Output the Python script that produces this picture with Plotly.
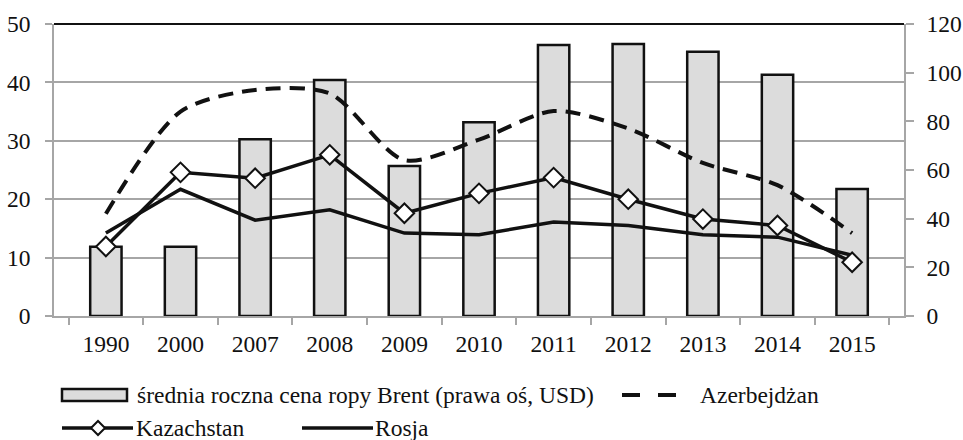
import plotly.graph_objects as go

years = ["1990", "2000", "2007", "2008", "2009", "2010", "2011", "2012", "2013", "2014", "2015"]
brent = [28.5, 28.5, 72.6, 97.0, 61.6, 79.6, 111.4, 111.8, 108.6, 99.1, 52.2]
azerbejdzan = [17.5, 35.0, 38.7, 38.1, 26.7, 30.2, 35.1, 32.1, 26.2, 22.4, 14.2]
kazachstan = [11.9, 24.6, 23.6, 27.6, 17.6, 21.0, 23.7, 20.0, 16.6, 15.5, 9.2]
rosja = [14.2, 21.7, 16.4, 18.2, 14.2, 13.9, 16.1, 15.5, 13.9, 13.5, 10.4]

names = ["średnia roczna cena ropy Brent (prawa oś, USD)", "Azerbejdżan", "Kazachstan", "Rosja"]

FONT = "Liberation Serif, Times New Roman, serif"
BAR_FILL = "#dcdcdc"
GRID = "#a6a6a6"
FS = 23.5

fig = go.Figure()
fig.add_trace(go.Bar(x=years, y=brent, name=names[0], yaxis="y", width=0.42,
                     marker=dict(color=BAR_FILL, line=dict(color="#111", width=2.5)),
                     showlegend=False))
fig.add_trace(go.Scatter(x=years, y=azerbejdzan, name=names[1], yaxis="y2", mode="lines",
                         line=dict(color="#111", width=4, dash="15px,9px", shape="spline",
                                   smoothing=0.8),
                         showlegend=False))
fig.add_trace(go.Scatter(x=years, y=rosja, name=names[3], yaxis="y2", mode="lines",
                         line=dict(color="#111", width=3.5), showlegend=False))
fig.add_trace(go.Scatter(x=years, y=kazachstan, name=names[2], yaxis="y2", mode="lines+markers",
                         line=dict(color="#111", width=3.5),
                         marker=dict(symbol="diamond", size=15, color="white",
                                     line=dict(color="#111", width=2)),
                         showlegend=False))

# body margin is removed by the post script, so the figure fills the window
W, H = 963, 440

def px(x):  # window pixel -> paper x
    return x / W

def py(y):  # window pixel -> paper y
    return (H - y) / H

XDOM = [px(54), px(904)]
YDOM = [py(316), py(24)]

shapes = [
    dict(type="line", xref="paper", yref="paper", x0=XDOM[0], x1=XDOM[1], y0=YDOM[1], y1=YDOM[1],
         line=dict(color="#111", width=2)),
]
ann = []

r1, r2 = 395, 428
shapes.append(dict(type="rect", xref="paper", yref="paper",
                   x0=px(62), x1=px(127), y0=py(r1 - 6), y1=py(r1 + 6),
                   fillcolor=BAR_FILL, line=dict(color="#111", width=2.5)))
ann.append(dict(text=names[0], x=px(135), y=py(r1)))
shapes.append(dict(type="line", xref="paper", yref="paper",
                   x0=px(622), x1=px(677), y0=py(r1), y1=py(r1),
                   line=dict(color="#111", width=4, dash="18px,18px")))
ann.append(dict(text=names[1], x=px(698), y=py(r1)))
shapes.append(dict(type="line", xref="paper", yref="paper",
                   x0=px(62), x1=px(133), y0=py(r2), y1=py(r2),
                   line=dict(color="#111", width=3.5)))
cx, cy, d = 98, r2, 7
shapes.append(dict(type="path", xref="paper", yref="paper",
                   path=f"M{px(cx - d)},{py(cy)} L{px(cx)},{py(cy - d)} L{px(cx + d)},{py(cy)} L{px(cx)},{py(cy + d)} Z",
                   fillcolor="white", line=dict(color="#111", width=2)))
ann.append(dict(text=names[2], x=px(134), y=py(r2)))
shapes.append(dict(type="line", xref="paper", yref="paper",
                   x0=px(302), x1=px(373), y0=py(r2), y1=py(r2),
                   line=dict(color="#111", width=3.5)))
ann.append(dict(text=names[3], x=px(373), y=py(r2)))

annotations = [dict(text=a["text"], x=a["x"], y=a["y"], xref="paper", yref="paper",
                    xanchor="left", yanchor="middle", showarrow=False,
                    font=dict(family=FONT, size=FS, color="#111")) for a in ann]

fig.update_layout(
    width=W, height=H,
    margin=dict(l=0, r=0, t=0, b=0, pad=0, autoexpand=False),
    paper_bgcolor="white", plot_bgcolor="white",
    font=dict(family=FONT, size=FS, color="#111"),
    showlegend=False,
    xaxis=dict(type="category", domain=XDOM, showline=True, linecolor=GRID, linewidth=1.5,
               ticks="outside", tickson="boundaries", ticklen=7, tickcolor=GRID, tickwidth=1.5,
               showgrid=False, tickfont=dict(family=FONT, size=FS, color="#111"),
               ticklabelstandoff=6),
    yaxis=dict(side="right", domain=YDOM, range=[0, 120], tickvals=[0, 20, 40, 60, 80, 100, 120],
               showgrid=False, showline=True, linecolor=GRID, linewidth=1.5,
               ticks="outside", ticklen=8, tickcolor=GRID, tickwidth=1.5,
               tickfont=dict(family=FONT, size=FS, color="#111"), ticklabelstandoff=8,
               zeroline=False),
    yaxis2=dict(side="left", overlaying="y", range=[0, 50], tickvals=[0, 10, 20, 30, 40, 50],
                showgrid=True, gridcolor=GRID, gridwidth=1.5,
                showline=True, linecolor=GRID, linewidth=1.5,
                ticks="outside", ticklen=7, tickcolor=GRID, tickwidth=1.5,
                tickfont=dict(family=FONT, size=FS, color="#111"), ticklabelstandoff=10,
                zeroline=False),
    shapes=shapes,
    annotations=annotations,
)

fig.write_html("out.html", config={"displayModeBar": False},
               post_script="document.body.style.margin='0';document.body.style.overflow='hidden';")
